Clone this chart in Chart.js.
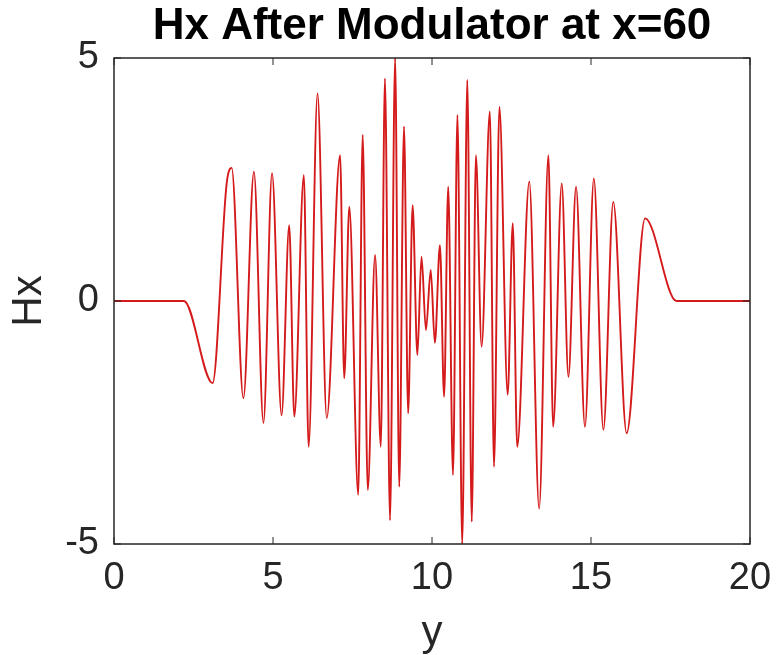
<!DOCTYPE html>
<html>
<head>
<meta charset="utf-8">
<script src="https://cdn.jsdelivr.net/npm/chart.js@4"></script>
<style>
  html, body { margin: 0; padding: 0; background: #fff; }
  #wrap { width: 777px; height: 655px; }
</style>
</head>
<body>
<div id="wrap"><canvas id="c" width="777" height="655"></canvas></div>
<script>
// Positions along y (x-axis of the plot) of the curve's turning points
const yPos = [0, 2.2, 3.10, 3.54, 3.70, 4.07, 4.40, 4.70, 4.97, 5.27, 5.51, 5.67, 5.97, 6.12, 6.40, 6.69,
  7.11, 7.24, 7.40, 7.68, 7.82, 7.98, 8.21, 8.39, 8.52, 8.68, 8.84, 8.97, 9.12, 9.25, 9.39, 9.54,
  9.67, 9.81, 9.96, 10.09, 10.25, 10.38, 10.51, 10.66, 10.80, 10.95, 11.11, 11.25, 11.38, 11.56,
  11.82, 11.95, 12.12, 12.38, 12.54, 12.68, 13.06, 13.37, 13.66, 13.81, 14.08, 14.29, 14.53, 14.81,
  15.09, 15.39, 15.70, 16.12, 16.70, 17.69, 20];
// Hx values at those positions
const hxVals = [0, 0, -1.69, 2.4, 2.74, -2.0, 2.66, -2.51, 2.63, -2.35, 1.56, -2.38, 2.59, -3.0, 4.27, -2.41,
  3.0, -1.59, 1.94, -3.99, 3.42, -3.89, 0.95, -3.0, 4.58, -4.51, 5.0, -3.82, 3.59, -2.31, 1.97, -1.11,
  0.91, -0.60, 0.64, -0.86, 1.15, -1.97, 2.35, -3.58, 3.83, -5.0, 4.55, -4.54, 3.0, -0.94,
  3.90, -3.41, 4.0, -1.93, 1.60, -3.0, 2.46, -4.27, 3.0, -2.59, 2.42, -1.56, 2.35, -2.59,
  2.52, -2.65, 2.04, -2.72, 1.70, 0, 0];
const xTicks = [0, 5, 10, 15, 20];
const yTicks = [-5, 0, 5];
const titleText = 'Hx After Modulator at x=60';
const xLabel = 'y';
const yLabel = 'Hx';

const points = yPos.map((v, i) => ({ x: v, y: hxVals[i] }));
const FONT = "'Liberation Sans', Arial, Helvetica, sans-serif";
const AXIS_COLOR = '#262626';

const boxPlugin = {
  id: 'boxTicks',
  afterDraw(chart) {
    const { ctx, chartArea: a, scales } = chart;
    ctx.save();
    ctx.strokeStyle = AXIS_COLOR;
    ctx.lineWidth = 1.5;
    ctx.strokeRect(a.left, a.top, a.right - a.left, a.bottom - a.top);
    ctx.lineWidth = 1;
    const L = 7;
    ctx.beginPath();
    xTicks.forEach(t => {
      const px = scales.x.getPixelForValue(t);
      ctx.moveTo(px, a.bottom); ctx.lineTo(px, a.bottom - L);
      ctx.moveTo(px, a.top); ctx.lineTo(px, a.top + L);
    });
    yTicks.forEach(t => {
      const py = scales.y.getPixelForValue(t);
      ctx.moveTo(a.left, py); ctx.lineTo(a.left + L, py);
      ctx.moveTo(a.right, py); ctx.lineTo(a.right - L, py);
    });
    ctx.stroke();
    ctx.restore();
  }
};

new Chart(document.getElementById('c'), {
  type: 'line',
  data: {
    datasets: [{
      data: points,
      borderColor: '#d41a1a',
      borderWidth: 1.9,
      pointRadius: 0,
      cubicInterpolationMode: 'monotone',
      fill: false
    }]
  },
  options: {
    responsive: false,
    animation: false,
    layout: { padding: { left: 0, right: 27, top: 0, bottom: 0 } },
    plugins: {
      legend: { display: false },
      tooltip: { enabled: false },
      title: {
        display: true,
        text: titleText,
        fullSize: false,
        color: '#000',
        font: { family: FONT, size: 44, weight: 'bold', lineHeight: 1.2 },
        padding: { top: 0, bottom: 5.2 }
      }
    },
    scales: {
      x: {
        type: 'linear',
        min: 0, max: 20,
        afterBuildTicks(s) { s.ticks = xTicks.map(v => ({ value: v })); },
        afterFit(s) { s.height = 111; s.paddingLeft = 0; s.paddingRight = 0; },
        grid: { display: false, drawTicks: false },
        border: { display: false },
        ticks: { color: AXIS_COLOR, padding: 12, maxRotation: 0, font: { family: FONT, size: 38 } },
        title: { display: true, text: xLabel, color: AXIS_COLOR, padding: { top: 0, bottom: 1 },
                 font: { family: FONT, size: 42, lineHeight: 1.0 } }
      },
      y: {
        type: 'linear',
        min: -5, max: 5,
        afterBuildTicks(s) { s.ticks = yTicks.map(v => ({ value: v })); },
        afterFit(s) { s.width = 114; s.paddingTop = 0; s.paddingBottom = 0; },
        grid: { display: false, drawTicks: false },
        border: { display: false },
        ticks: { color: AXIS_COLOR, padding: 15, font: { family: FONT, size: 38 } },
        title: { display: true, text: yLabel, color: AXIS_COLOR, padding: { top: 4, bottom: 0 },
                 font: { family: FONT, size: 42, lineHeight: 1.2 } }
      }
    }
  },
  plugins: [boxPlugin]
});
</script>
</body>
</html>
